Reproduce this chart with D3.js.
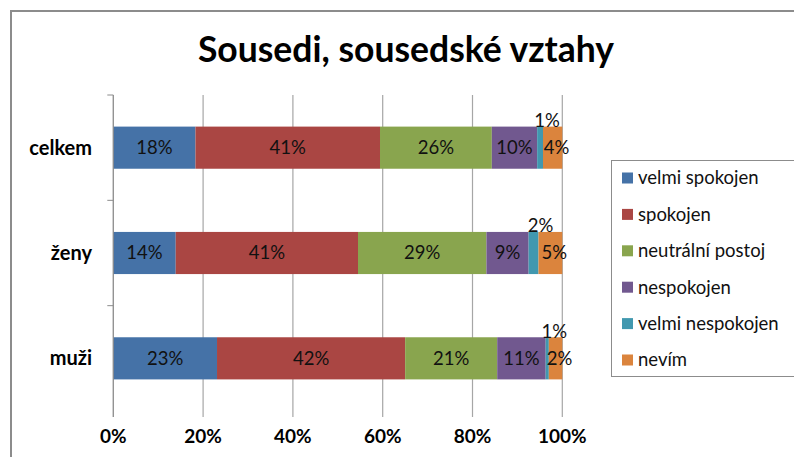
<!DOCTYPE html>
<html>
<head>
<meta charset="utf-8">
<script src="https://cdn.jsdelivr.net/npm/d3@7"></script>
<style>
  body { margin: 0; background: #fff; }
  svg { display: block; font-family: Lato, "Open Sans", sans-serif; }
</style>
</head>
<body>
<svg id="chart" width="794" height="457"></svg>
<script>
const categories = ["celkem", "ženy", "muži"];
const seriesNames = ["velmi spokojen", "spokojen", "neutrální postoj", "nespokojen", "velmi nespokojen", "nevím"];
const colors = ["#4572A7", "#AA4643", "#89A54E", "#71588F", "#4198AF", "#DB843D"];

// bar shares as drawn (%), one list per category
const celkem = [18.3, 41.1, 24.9, 10.1, 1.3, 4.3];
const zeny = [13.9, 40.6, 28.6, 9.4, 2.2, 5.3];
const muzi = [23.1, 41.9, 20.5, 10.8, 0.7, 3.0];

// data labels as printed on the chart
const celkemLabels = ["18%", "41%", "26%", "10%", "1%", "4%"];
const zenyLabels = ["14%", "41%", "29%", "9%", "2%", "5%"];
const muziLabels = ["23%", "42%", "21%", "11%", "1%", "2%"];

const tickValues = [0, 20, 40, 60, 80, 100];

const values = [celkem, zeny, muzi];
const labels = [celkemLabels, zenyLabels, muziLabels];

const svg = d3.select("#chart");

// outer chart border (only top and left edge are in frame)
svg.append("path")
    .attr("d", "M11,820 V11 H820")
    .attr("fill", "none")
    .attr("stroke", "#8c8c8c")
    .attr("stroke-width", 2);

svg.append("text")
    .attr("x", 406)
    .attr("y", 62)
    .attr("text-anchor", "middle")
    .attr("font-size", 35.5)
    .attr("font-weight", "bold")
    .text("Sousedi, sousedské vztahy");

const plotTop = 95, plotBottom = 417;

const x = d3.scaleLinear().domain([0, 100]).range([113.3, 562.3]);
const y = d3.scaleBand().domain(categories).range([plotTop, 411]).paddingInner(0.6).paddingOuter(0.3);

// vertical gridlines
svg.append("g")
    .selectAll("line")
    .data(tickValues)
    .join("line")
        .attr("x1", d => x(d))
        .attr("x2", d => x(d))
        .attr("y1", plotTop)
        .attr("y2", plotBottom)
        .attr("stroke", "#a6a6a6")
        .attr("stroke-width", 1.2);

// x tick labels
svg.append("g")
    .selectAll("text")
    .data(tickValues)
    .join("text")
        .attr("x", d => x(d))
        .attr("y", 443)
        .attr("text-anchor", "middle")
        .attr("font-size", 19)
        .attr("font-weight", "bold")
        .text(d => d + "%");

// category axis ticks
const bandStep = y.step();
const catTicks = d3.range(categories.length).map(i => plotTop + i * bandStep);
svg.append("g")
    .selectAll("line")
    .data(catTicks)
    .join("line")
        .attr("x1", x(0) - 6)
        .attr("x2", x(0))
        .attr("y1", d => d)
        .attr("y2", d => d)
        .attr("stroke", "#8c8c8c");

svg.append("g")
    .selectAll("text")
    .data(categories)
    .join("text")
        .attr("x", 92)
        .attr("y", d => y(d) + y.bandwidth() / 2)
        .attr("dy", "0.35em")
        .attr("text-anchor", "end")
        .attr("font-size", 20)
        .attr("font-weight", "bold")
        .text(d => d);

// stacked segments
const rows = categories.map((c, i) => {
    let acc = 0;
    return values[i].map((v, j) => {
        const seg = { cat: c, series: j, x0: acc, x1: acc + v, label: labels[i][j] };
        acc += v;
        return seg;
    });
});

const bars = svg.append("g")
    .selectAll("g")
    .data(rows)
    .join("g");

bars.selectAll("rect")
    .data(d => d)
    .join("rect")
        .attr("x", d => x(d.x0))
        .attr("y", d => y(d.cat))
        .attr("width", d => x(d.x1) - x(d.x0))
        .attr("height", y.bandwidth())
        .attr("fill", d => colors[d.series]);

bars.selectAll("text")
    .data(d => d)
    .join("text")
        .attr("x", d => {
            const cx = (x(d.x0) + x(d.x1)) / 2;
            if (d.x1 - d.x0 < 3) return cx + 7;
            if (d.series === colors.length - 1) return cx + 4;
            return cx;
        })
        .attr("y", d => (d.x1 - d.x0 < 3) ? y(d.cat) - 6 : y(d.cat) + y.bandwidth() / 2)
        .attr("dy", "0.35em")
        .attr("text-anchor", "middle")
        .attr("font-size", 18.5)
        .attr("fill", "#111")
        .text(d => d.label);

// left axis line
svg.append("line")
    .attr("x1", x(0))
    .attr("x2", x(0))
    .attr("y1", plotTop)
    .attr("y2", plotBottom)
    .attr("stroke", "#8c8c8c");

// legend
const legend = svg.append("g");
legend.append("rect")
    .attr("x", 611.5)
    .attr("y", 160.5)
    .attr("width", 200)
    .attr("height", 216)
    .attr("fill", "#fff")
    .attr("stroke", "#8c8c8c");

const items = legend.selectAll("g")
    .data(seriesNames)
    .join("g")
        .attr("transform", (d, i) => `translate(622, ${178 + i * 36.4})`);

items.append("rect")
    .attr("x", 0)
    .attr("y", -5.5)
    .attr("width", 11)
    .attr("height", 11)
    .attr("fill", (d, i) => colors[i]);

items.append("text")
    .attr("x", 16)
    .attr("dy", "0.35em")
    .attr("font-size", 18.5)
    .attr("fill", "#111")
    .text(d => d);
</script>
</body>
</html>
